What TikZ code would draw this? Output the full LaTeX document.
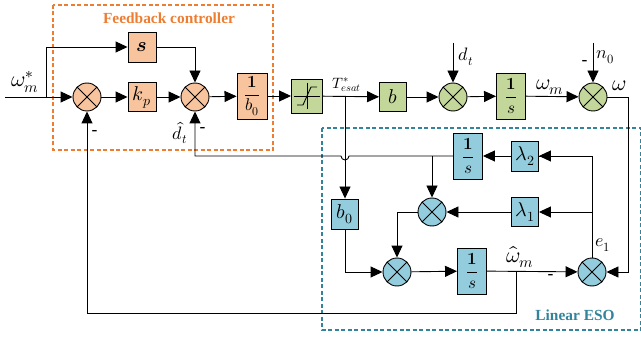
\documentclass[tikz,border=0pt]{standalone}
\usepackage{amsmath}
\usepackage{fontspec}
\usepackage{unicode-math}
\newfontfamily\tnr{Liberation Serif}
\usetikzlibrary{arrows.meta}
\definecolor{orfill}{RGB}{248,196,158}
\definecolor{grfill}{RGB}{196,215,155}
\definecolor{tlfill}{RGB}{147,205,221}
\definecolor{ordash}{RGB}{237,125,49}
\definecolor{tldash}{RGB}{49,132,155}
\tikzset{
  every node/.style={font=\fontsize{20}{24}\selectfont},
  blk/.style={draw, line width=0.9pt, inner sep=0pt, minimum width=#1},
  blk/.default=28pt,
  fracfont/.style={font=\fontsize{17}{20}\selectfont},
  sumnode/.style={draw, circle, line width=0.9pt, minimum size=28pt, inner sep=0pt,
    path picture={\draw[line width=0.9pt] (path picture bounding box.north west) -- (path picture bounding box.south east)
      (path picture bounding box.north east) -- (path picture bounding box.south west);}},
  sig/.style={line width=0.9pt},
  arr/.style={line width=0.9pt, -{Triangle[length=12pt,width=11pt]}},
  lbl/.style={inner sep=0pt, font=\fontsize{18}{21}\selectfont},
  wlbl/.style={inner sep=0pt, font=\fontsize{22}{26}\selectfont},
  minus/.style={inner sep=0pt, font=\bfseries\fontsize{15}{18}\selectfont},
  boxtitle/.style={inner sep=0pt, font=\tnr\bfseries\fontsize{15.4}{18}\selectfont}
}
\begin{document}
\begin{tikzpicture}[x=1pt,y=-1pt]
\useasboundingbox (0,0) rectangle (641,337);
% dashed boxes
\draw[ordash, line width=1.8pt, dash pattern=on 4pt off 2.5pt] (53,5) rectangle (273,150);
\draw[tldash, line width=1.8pt, dash pattern=on 4pt off 2.5pt] (322,128) rectangle (641,330);
\node[boxtitle, text=ordash] (fbc) at (169,18) {Feedback controller};
\node[boxtitle, text=tldash] (leso) at (575,315) {Linear ESO};

% sums
\node[sumnode, fill=orfill] (s1) at (87,97) {};
\node[sumnode, fill=orfill] (s2) at (195,97) {};
\node[sumnode, fill=grfill] (s3) at (453,97) {};
\node[sumnode, fill=grfill] (s4) at (593,97) {};
\node[sumnode, fill=tlfill] (s5) at (432,212) {};
\node[sumnode, fill=tlfill] (s6) at (397,272) {};
\node[sumnode, fill=tlfill] (s7) at (592,272) {};

% blocks
\node[blk, fill=orfill, minimum height=30pt] (bs) at (142,47) {$\symbfit{s}$};
\node[blk, fill=orfill, minimum height=29pt] (bkp) at (142,97) {$k_p$};
\node[blk=30pt, fill=orfill, minimum height=46pt, fracfont] (binv) at (252,96) {$\dfrac{\mathbf{1}}{b_0}$};
\node[blk=31pt, fill=grfill, minimum height=34pt] (sat) at (307,96) {};
\draw[line width=0.8pt] ([xshift=3pt]sat.west) -- ([xshift=-3pt]sat.east)
  ([yshift=-4pt]sat.north) -- ([yshift=4pt]sat.south);
\draw[line width=0.9pt] ([xshift=-10pt,yshift=-9pt]sat.center) -- ([xshift=-4pt,yshift=-9pt]sat.center)
  -- ([xshift=4pt,yshift=9pt]sat.center) -- ([xshift=10pt,yshift=9pt]sat.center);
\node[blk=27pt, fill=grfill, minimum height=29pt] (bb) at (393,97) {$b$};
\node[blk=29pt, fill=grfill, minimum height=46pt, fracfont] (bi1) at (511,96) {$\dfrac{\mathbf{1}}{s}$};
\node[blk=29pt, fill=tlfill, minimum height=46pt, fracfont] (bi2) at (468,156) {$\dfrac{\mathbf{1}}{s}$};
\node[blk=27pt, fill=tlfill, minimum height=30pt] (bl2) at (525,156) {$\lambda_2$};
\node[blk=27pt, fill=tlfill, minimum height=29pt] (bl1) at (525,212) {$\lambda_1$};
\node[blk=27pt, fill=tlfill, minimum height=30pt] (bb0) at (345,214) {$b_0$};
\node[blk=29pt, fill=tlfill, minimum height=46pt, fracfont] (bi3) at (472,271) {$\dfrac{\mathbf{1}}{s}$};

% coordinates
\coordinate (in) at (5,97);
\coordinate (br1) at (46,97);
\coordinate (tbr) at (345,97);
\coordinate (dt) at (453,43);
\coordinate (n0) at (593,43);
\coordinate (eb) at (592,212);
\coordinate (wb) at (516,272);
\coordinate (db) at (432,156);

% forward path
\draw[arr] (in) -- (s1);
\draw[arr] (br1) |- (bs);
\draw[arr] (s1) -- (bkp);
\draw[arr] (bkp) -- (s2);
\draw[arr] (bs.east) -| (s2.north);
\draw[arr] (s2) -- (binv);
\draw[arr] (binv) -- (sat);
\draw[arr] (sat) -- (bb);
\draw[arr] (bb) -- (s3);
\draw[arr] (dt) -- (s3);
\draw[arr] (s3) -- (bi1);
\draw[arr] (bi1) -- (s4);
\draw[arr] (n0) -- (s4);
\draw[arr] (s4.east) -- (628,97) |- (s7.east);

% ESO
\draw[arr] (tbr) -- (bb0);
\draw[sig] (s7.north) |- (bl2.east);
\draw[arr] (592,156) -- (bl2.east);
\draw[arr] (eb) -- (bl1);
\draw[arr] (bl2) -- (bi2);
\draw[arr] (bl1) -- (s5);
\draw[arr] (db) -- (s5);
\draw[arr] (s5.west) -| (s6.north);
\draw[arr] (bb0.south) |- (s6.west);
\draw[arr] (s6) -- (bi3);
\draw[arr] (bi3) -- (s7);
\draw[arr] (bi2.west) -- (349,156) arc[start angle=0, end angle=180, radius=4] -- (195,156) -- (s2.south);
\draw[arr] (wb) -- (516,313) -| (s1.south);

% labels
\node[wlbl] (lw) at (25,82) {$\omega_m^*$};
\node[minus] (m1) at (95,132) {-};
\node[lbl] (ldh) at (180,133) {$\hat{d}_t$};
\node[minus] (m2) at (203,129) {-};
\node[lbl, font=\fontsize{15}{18}\selectfont] (lt) at (347,85) {$T^*_{esat}$};
\node[lbl] (ldt) at (466,57) {$d_t$};
\node[lbl] (ln0) at (605,57) {$n_0$};
\node[minus] (m3) at (585,62) {-};
\node[wlbl] (lwm) at (550,87) {$\omega_m$};
\node[wlbl] (lom) at (619,86) {$\omega$};
\node[lbl] (le1) at (603,245) {$e_1$};
\node[wlbl] (lwh) at (520,257) {$\hat{\omega}_m$};
\node[minus] (m4) at (551,276) {-};
\end{tikzpicture}
\end{document}
